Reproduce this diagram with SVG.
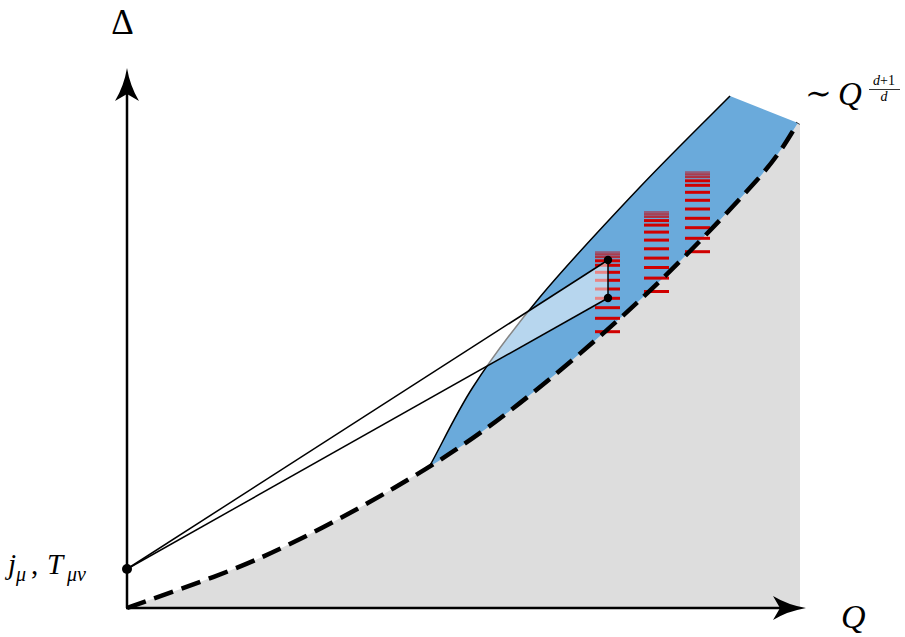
<svg xmlns="http://www.w3.org/2000/svg" width="905" height="637" viewBox="0 0 905 637">
<style>
.m{font-family:"Liberation Serif","DejaVu Serif",serif;fill:#000}
.it{font-style:italic}
.ln{fill:none;stroke:#000;stroke-width:1.5}
.dot{fill:#000}
.bar{fill:#d00000}
</style>
<defs>
<g id="lv">
<rect class="bar" x="0" y="-1.5" width="25" height="3"/>
<rect class="bar" x="0" y="-14.9" width="25" height="3"/>
<rect class="bar" x="0" y="-25.5" width="25" height="3"/>
<rect class="bar" x="0" y="-34.9" width="25" height="3"/>
<rect class="bar" x="0" y="-44.2" width="25" height="3"/>
<rect class="bar" x="0" y="-52.9" width="25" height="3"/>
<rect class="bar" x="0" y="-60.9" width="25" height="3"/>
<rect class="bar" x="0" y="-67.9" width="25" height="3"/>
<rect class="bar" x="0" y="-72.4" width="25" height="3"/>
<rect x="0" y="-80.5" width="25" height="7" fill="#a04860" opacity="0.8"/>
<rect class="bar" x="0" y="-75.6" width="25" height="2" opacity="0.5"/>
<rect class="bar" x="0" y="-78.2" width="25" height="1.5" opacity="0.35"/>
</g>
</defs>
<rect width="905" height="637" fill="#fff"/>
<g id="forbidden-region">
<path fill="#dddddd" d="M127,608 C149.2,599.7 215.5,578 260,558 C304.5,538 352.8,512.2 394,488 C435.2,463.8 466,444.3 507,413 C548,381.7 598.3,338.8 640,300 C681.7,261.2 730.8,209.3 757,180 C783.3,150.5 791.2,132.5 798,123 L800,123 L800,608 Z"/>
</g>
<g id="band">
<path fill="#6aaadb" d="M429,467 C437.2,453.7 454.7,415.3 473,387 C491.3,358.7 512.2,330.3 540,297 C567.8,263.7 608.3,220.5 640,187 C671.7,153.5 715,111.2 730,96 L798,123 C791.2,132.5 783.3,150.5 757,180 C730.8,209.3 681.7,261.2 640,300 C598.3,338.8 548,381.7 507,413 C476,437 450,454 429,467 Z"/>
<path class="ln" d="M429,467 C437.2,453.7 454.7,415.3 473,387 C491.3,358.7 512.2,330.3 540,297 C567.8,263.7 608.3,220.5 640,187 C671.7,153.5 715,111.2 730,96"/>
</g>
<g id="spectra">
<use href="#lv" x="595" y="331.7"/>
<use href="#lv" x="644" y="291.5"/>
<use href="#lv" x="685" y="251.7"/>
</g>
<g id="overlay">
<polygon points="127,569 608,260 608,298" fill="#fff" opacity="0.52"/>
</g>
<g id="bound">
<path fill="none" stroke="#000" stroke-width="4.5" stroke-dasharray="20 9" d="M127,608 C149.2,599.7 215.5,578 260,558 C304.5,538 352.8,512.2 394,488 C435.2,463.8 466,444.3 507,413 C548,381.7 598.3,338.8 640,300 C681.7,261.2 730.8,209.3 757,180 C783.3,150.5 791.2,132.5 798,123"/>
</g>
<g id="axes">
<line x1="127" y1="608" x2="127" y2="92" stroke="#000" stroke-width="2.5"/>
<line x1="126" y1="608" x2="782" y2="608" stroke="#000" stroke-width="2.5"/>
<path d="M127,68 Q130,86 139,101 L127,94 L115,101 Q124,86 127,68 Z" fill="#000"/>
<path d="M806,608 Q788,611 773,620 L780,608 L773,596 Q788,605 806,608 Z" fill="#000"/>
</g>
<g id="connectors">
<line class="ln" x1="127" y1="569" x2="608" y2="260"/>
<line class="ln" x1="127" y1="569" x2="608" y2="298"/>
<line class="ln" x1="608" y1="260" x2="608" y2="298"/>
</g>
<g id="node-j">
<circle class="dot" cx="127" cy="569" r="5"/>
<text class="m it" font-size="29"><tspan x="8" y="574">j</tspan><tspan x="16" y="581" font-size="20">μ</tspan><tspan x="31" y="574" font-style="normal">,</tspan><tspan x="47" y="574">T</tspan><tspan x="67" y="581" font-size="20">μν</tspan></text>
</g>
<g id="node-a"><circle class="dot" cx="608" cy="260" r="4.2"/></g>
<g id="node-b"><circle class="dot" cx="608" cy="298" r="4.2"/></g>
<g id="labels">
<text class="m" x="122.5" y="34" font-size="35" text-anchor="middle">Δ</text>
<text class="m it" x="841" y="628" font-size="34">Q</text>
<text class="m" x="805" y="104" font-size="32">∼</text>
<text class="m it" x="838" y="105" font-size="33">Q</text>
<text class="m" x="884" y="85" font-size="14" text-anchor="middle"><tspan font-style="italic">d</tspan>+1</text>
<line x1="869" y1="89.5" x2="900" y2="89.5" stroke="#000" stroke-width="0.8"/>
<text class="m it" x="884" y="100.5" font-size="14" text-anchor="middle">d</text>
</g>
</svg>
